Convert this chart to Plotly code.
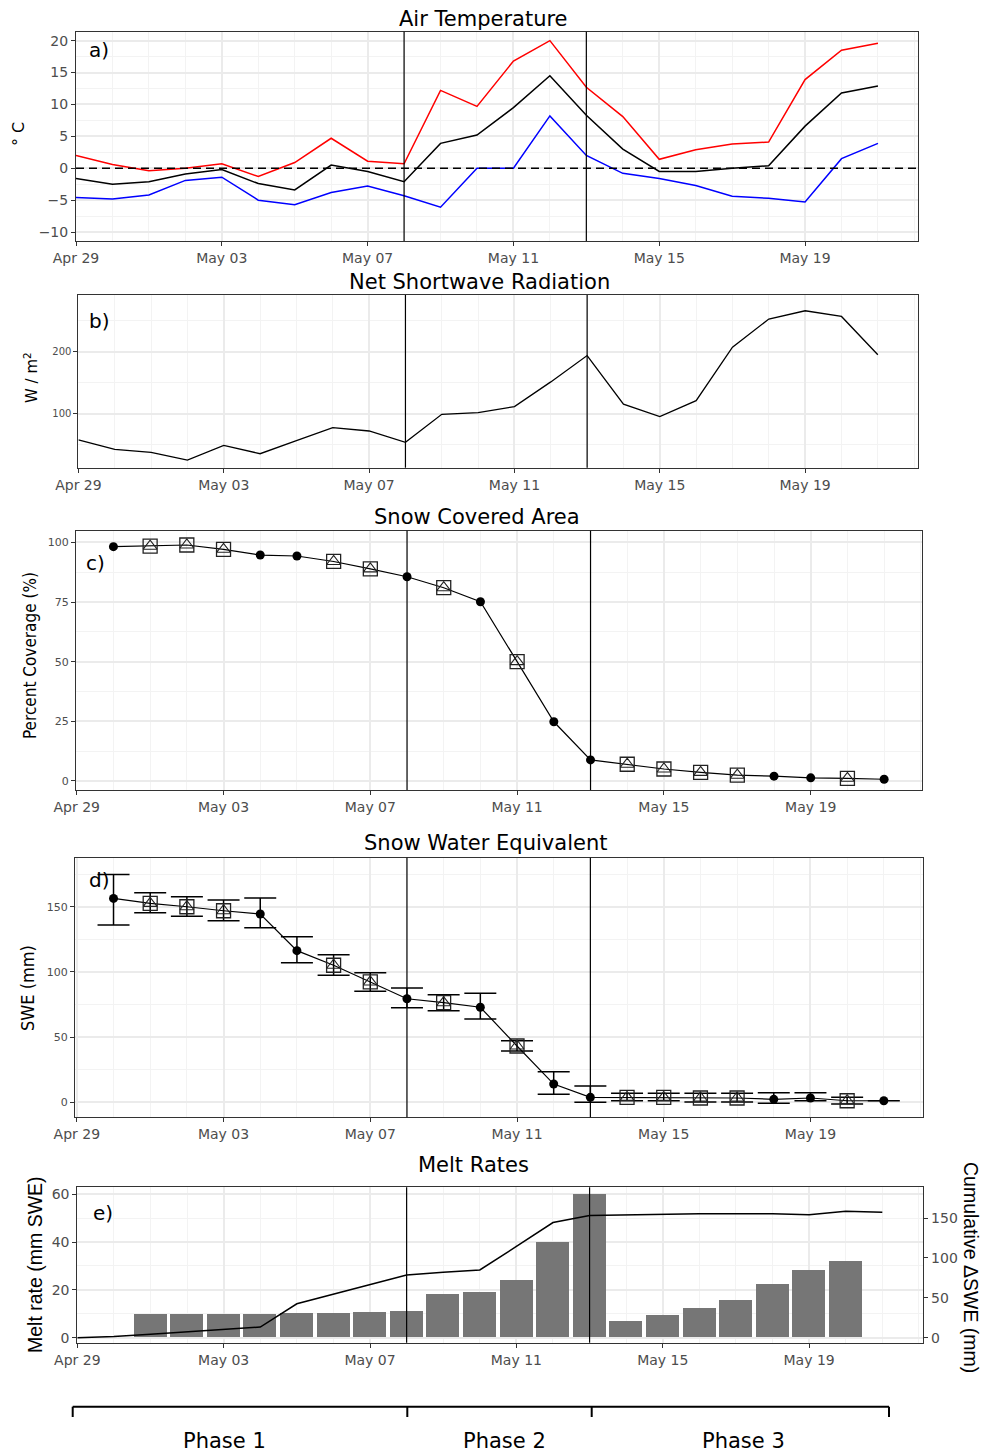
import pandas as pd
import plotly.graph_objects as go

W, H = 984, 1454
DAY = 86400000

# ---- data -------------------------------------------------------------
dates = ["2019-04-29", "2019-04-30", "2019-05-01", "2019-05-02", "2019-05-03",
         "2019-05-04", "2019-05-05", "2019-05-06", "2019-05-07", "2019-05-08",
         "2019-05-09", "2019-05-10", "2019-05-11", "2019-05-12", "2019-05-13",
         "2019-05-14", "2019-05-15", "2019-05-16", "2019-05-17", "2019-05-18",
         "2019-05-19", "2019-05-20", "2019-05-21"]

temp_max = [2.0, 0.6, -0.4, 0.0, 0.7, -1.3, 0.9, 4.7, 1.1, 0.7, 12.2, 9.7,
            16.8, 20.0, 12.7, 8.1, 1.4, 2.9, 3.8, 4.1, 13.9, 18.5, 19.6]
temp_mean = [-1.6, -2.5, -2.1, -0.9, -0.2, -2.4, -3.4, 0.5, -0.5, -2.1, 3.9, 5.2,
             9.5, 14.5, 8.3, 3.0, -0.5, -0.5, 0.0, 0.4, 6.6, 11.8, 12.9]
temp_min = [-4.6, -4.8, -4.2, -1.9, -1.4, -5.0, -5.7, -3.8, -2.8, -4.3, -6.1, 0.0,
            0.0, 8.2, 2.0, -0.8, -1.6, -2.7, -4.4, -4.7, -5.3, 1.5, 3.9]

net_sw = [57.6, 42.6, 37.7, 25.3, 49.0, 35.5, 56.5, 77.4, 72.1, 53.9, 99.0, 101.6,
          111.3, 151.1, 193.5, 115.2, 95.2, 121.0, 207.0, 252.3, 265.6, 256.5, 194.7]

# observation days (Apr 30 - May 21) and how each was observed
obs_dates = dates[1:]
obs_kind = ["dot", "box", "box", "box", "dot", "dot", "box", "box", "dot", "box",
            "dot", "box", "dot", "dot", "box", "box", "box", "box", "dot", "dot",
            "box", "dot"]

sca = [98.2, 98.4, 98.9, 97.1, 94.7, 94.3, 92.0, 88.9, 85.6, 81.0, 75.1, 50.0,
       24.8, 8.8, 7.0, 5.0, 3.6, 2.4, 2.0, 1.3, 1.1, 0.7]

swe = [156.4, 152.6, 150.0, 146.9, 144.4, 116.3, 105.1, 92.3, 79.4, 76.4, 72.9,
       43.2, 14.0, 3.8, 3.8, 3.8, 3.3, 3.3, 2.3, 3.3, 1.2, 1.2]
swe_upper = [174.8, 160.7, 157.7, 155.1, 156.7, 127.0, 113.2, 99.4, 87.7, 82.5, 83.6,
             47.3, 23.5, 12.5, 6.9, 6.9, 6.9, 6.9, 7.4, 7.4, 3.8, None]
swe_lower = [136.0, 145.4, 142.6, 139.3, 133.9, 107.1, 97.4, 85.1, 72.6, 70.2, 63.9,
             39.3, 6.1, 0.0, 1.2, 1.2, 0.3, 0.3, -0.8, 1.2, -1.3, None]

melt_dates = dates[2:22]
melt_rate = [9.6, 9.6, 9.6, 9.6, 10.0, 10.0, 10.75, 11.0, 18.0, 19.0,
             23.8, 39.9, 60.1, 6.9, 9.4, 12.3, 15.8, 22.3, 28.0, 32.0]
cum_dswe = [0.0, 1.6, 4.4, 7.4, 10.3, 13.3, 42.5, 54.4, 66.4, 78.7, 82.0, 85.0,
            114.5, 144.5, 153.3, 154.1, 155.0, 155.4, 155.4, 155.4, 154.1, 158.7, 157.5]

phase_breaks = ["2019-05-08", "2019-05-13"]
phase_labels = ["Phase 1", "Phase 2", "Phase 3"]

# ---- helpers ------------------------------------------------------------
def px_x(x):
    return x / W


def px_y(y):
    return 1 - y / H


GRID = "#ebebeb"
MINOR = "#f3f3f3"
AXC = "#333333"
TICKC = "#4d4d4d"
FONT = "DejaVu Sans"

t0 = pd.Timestamp(dates[0])


def x_axis(box, days, anchor):
    return dict(
        domain=[px_x(box[0]), px_x(box[1])],
        range=[t0 + pd.Timedelta(days=days[0]), t0 + pd.Timedelta(days=days[1])],
        type="date", tickformat="%b %d", dtick=4 * DAY, tick0=dates[0],
        ticks="outside", ticklen=4, tickwidth=1, tickcolor=AXC,
        showline=True, linecolor=AXC, linewidth=1, mirror=True,
        showgrid=True, gridcolor=GRID, gridwidth=1.5,
        minor=dict(dtick=DAY, tick0=dates[0], showgrid=True, gridcolor=MINOR, gridwidth=1),
        tickfont=dict(family=FONT, size=14, color=TICKC),
        zeroline=False, anchor=anchor, fixedrange=True, automargin=False,
    )


def y_axis(box, rng, dtick, minor, anchor, size=14, tickvals=None):
    d = dict(
        domain=[px_y(box[1]), px_y(box[0])],
        range=rng, dtick=dtick, tick0=0,
        ticks="outside", ticklen=4, tickwidth=1, tickcolor=AXC,
        showline=True, linecolor=AXC, linewidth=1, mirror=True,
        showgrid=True, gridcolor=GRID, gridwidth=1.5,
        minor=dict(dtick=minor, tick0=0, showgrid=True, gridcolor=MINOR, gridwidth=1),
        tickfont=dict(family=FONT, size=size, color=TICKC),
        zeroline=False, anchor=anchor, fixedrange=True, automargin=False,
    )
    if tickvals is not None:
        d["tickmode"] = "array"
        d["tickvals"] = tickvals
    return d


# panel boxes in pixels: (left, right) and (top, bottom)
BOX = {
    "a": ((76, 917.7), (31.7, 241)),
    "b": ((78.4, 917.8), (295, 467.7)),
    "c": ((76, 922.3), (530.7, 790)),
    "d": ((75, 922.7), (857.7, 1117.3)),
    "e": ((77.3, 923.3), (1187.3, 1342.7)),
}

fig = go.Figure()

# ---- a) air temperature --------------------------------------------------
for vals, col in [(temp_max, "#ff0000"), (temp_mean, "#000000"), (temp_min, "#0000ff")]:
    fig.add_trace(go.Scatter(x=dates, y=vals, mode="lines", xaxis="x", yaxis="y",
                             line=dict(color=col, width=1.5)))

# ---- b) net shortwave ----------------------------------------------------
fig.add_trace(go.Scatter(x=dates, y=net_sw, mode="lines", xaxis="x2", yaxis="y2",
                         line=dict(color="black", width=1.3)))

# ---- c) snow covered area -------------------------------------------------
dot_x = [d for d, k in zip(obs_dates, obs_kind) if k == "dot"]
box_x = [d for d, k in zip(obs_dates, obs_kind) if k == "box"]


def pick(vals, kind):
    return [v for v, k in zip(vals, obs_kind) if k == kind]


def add_obs(vals, xa, ya, err=None):
    line = go.Scatter(x=obs_dates, y=vals, mode="lines", xaxis=xa, yaxis=ya,
                      line=dict(color="black", width=1.2))
    if err is not None:
        line.error_y = err
    fig.add_trace(line)
    fig.add_trace(go.Scatter(x=box_x, y=pick(vals, "box"), mode="markers", xaxis=xa, yaxis=ya,
                             marker=dict(symbol="square-open", size=14, color="#222222",
                                         line=dict(width=1.3))))
    fig.add_trace(go.Scatter(x=box_x, y=pick(vals, "box"), mode="markers", xaxis=xa, yaxis=ya,
                             marker=dict(symbol="triangle-up-open", size=12, color="#222222",
                                         line=dict(width=1.1))))
    fig.add_trace(go.Scatter(x=dot_x, y=pick(vals, "dot"), mode="markers", xaxis=xa, yaxis=ya,
                             marker=dict(symbol="circle", size=9, color="black")))


add_obs(sca, "x3", "y3")

# ---- d) snow water equivalent ---------------------------------------------
err_plus = [None if u is None else u - v for u, v in zip(swe_upper, swe)]
err_minus = [None if l is None else v - l for l, v in zip(swe_lower, swe)]
add_obs(swe, "x4", "y4",
        err=dict(type="data", symmetric=False, array=err_plus, arrayminus=err_minus,
                 color="black", thickness=1.5, width=16))

# ---- e) melt rates ---------------------------------------------------------
fig.add_trace(go.Bar(x=melt_dates, y=melt_rate, xaxis="x5", yaxis="y5",
                     width=0.9 * DAY, marker=dict(color="#767676", line=dict(width=0))))
fig.add_trace(go.Scatter(x=dates, y=cum_dswe, mode="lines", xaxis="x5", yaxis="y6",
                         line=dict(color="black", width=1.5)))

# ---- axes -----------------------------------------------------------------
rng_e = [-2.1, 62.9]
layout_axes = dict(
    xaxis=x_axis(BOX["a"][0], (0, 23.09), "y"),
    yaxis=y_axis(BOX["a"][1], [-11.4, 21.4], 5, 2.5, "x", size=14),
    xaxis2=x_axis(BOX["b"][0], (0, 23.1), "y2"),
    yaxis2=y_axis(BOX["b"][1], [13, 291], 100, 50, "x2", size=10, tickvals=[100, 200]),
    xaxis3=x_axis(BOX["c"][0], (-0.02, 23.04), "y3"),
    yaxis3=y_axis(BOX["c"][1], [-3.8, 104.9], 25, 12.5, "x3", size=11),
    xaxis4=x_axis(BOX["d"][0], (-0.05, 23.06), "y4"),
    yaxis4=y_axis(BOX["d"][1], [-11.5, 187.6], 50, 25, "x4", size=11),
    xaxis5=x_axis(BOX["e"][0], (0, 23.12), "y5"),
    yaxis5=y_axis(BOX["e"][1], rng_e, 20, 10, "x5", size=14),
)
layout_axes["yaxis6"] = dict(
    overlaying="y5", side="right", anchor="x5",
    range=[3 * rng_e[0], 3 * rng_e[1]], dtick=50, tick0=0,
    ticks="outside", ticklen=4, tickwidth=1, tickcolor=AXC,
    showline=False, showgrid=False, zeroline=False, fixedrange=True, automargin=False,
    tickfont=dict(family=FONT, size=14, color=TICKC),
)

# ---- shapes ---------------------------------------------------------------
shapes = []
for xa, ya in [("x", "y"), ("x2", "y2"), ("x3", "y3"), ("x4", "y4"), ("x5", "y5")]:
    for b in phase_breaks:
        shapes.append(dict(type="line", xref=xa, yref=f"{ya} domain", x0=b, x1=b, y0=0, y1=1,
                           line=dict(color="black", width=1.2)))
shapes.append(dict(type="line", xref="x domain", yref="y", x0=0, x1=1, y0=0, y1=0,
                   line=dict(color="black", width=1.5, dash="8px,5px")))

# phase bracket under the figure
br_y, br_tick = 1406.7, 1417
br_x = [72.7, 407.3, 591.7, 889]
shapes.append(dict(type="line", xref="paper", yref="paper", x0=px_x(br_x[0]), x1=px_x(br_x[-1]),
                   y0=px_y(br_y), y1=px_y(br_y), line=dict(color="black", width=2)))
for bx in br_x:
    shapes.append(dict(type="line", xref="paper", yref="paper", x0=px_x(bx), x1=px_x(bx),
                       y0=px_y(br_y), y1=px_y(br_tick), line=dict(color="black", width=2)))

# ---- text -----------------------------------------------------------------
ann = []


def text(s, x, y, size, angle=0, family=FONT, color="black"):
    ann.append(dict(text=s, x=px_x(x), y=px_y(y), xref="paper", yref="paper",
                    showarrow=False, xanchor="center", yanchor="middle", textangle=angle,
                    font=dict(family=family, size=size, color=color)))


titles = [("Air Temperature", 483, 19), ("Net Shortwave Radiation", 479, 282),
          ("Snow Covered Area", 477, 517), ("Snow Water Equivalent", 485, 843),
          ("Melt Rates", 473, 1165)]
for s, x, y in titles:
    text(s, x, y, 21)

for s, x, y in [("a)", 99, 50), ("b)", 99, 321), ("c)", 95, 563), ("d)", 99, 880), ("e)", 103, 1213)]:
    text(s, x, y, 20)

NARROW = "DejaVu Sans Condensed, DejaVu Sans"
text("° C", 19, 134, 16, angle=-90)
text("W / m<sup>2</sup>", 31, 377, 15, angle=-90)
text("Percent Coverage (%)", 30, 656, 17, angle=-90, family=NARROW)
text("SWE (mm)", 28, 988, 18, angle=-90, family=NARROW)
text("Melt rate (mm SWE)", 35, 1265, 19.5, angle=-90, family="Liberation Sans")
text("Cumulative ΔSWE (mm)", 971, 1267, 19.5, angle=90, family="Liberation Sans")

for s, x in zip(phase_labels, [224, 504, 743]):
    text(s, x, 1441, 21)

fig.update_layout(
    width=W, height=H, margin=dict(l=0, r=0, t=0, b=0, autoexpand=False),
    paper_bgcolor="white", plot_bgcolor="white",
    showlegend=False, bargap=0,
    font=dict(family=FONT, color="black"),
    shapes=shapes, annotations=ann,
    **layout_axes,
)

fig.write_html("out.html")
